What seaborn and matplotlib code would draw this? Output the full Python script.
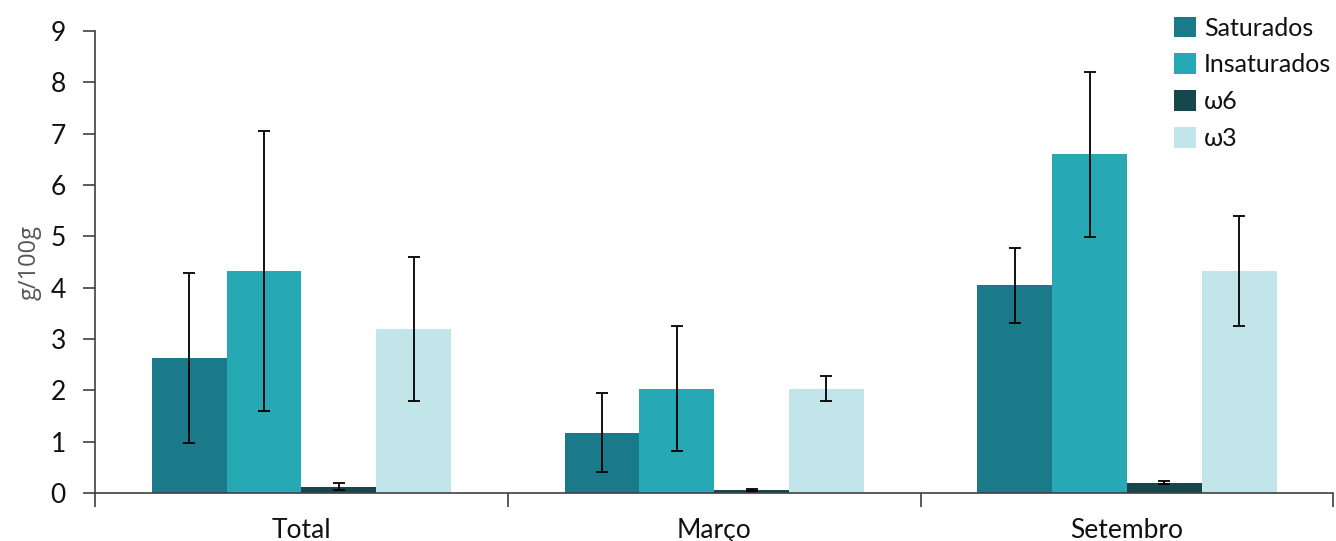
import pandas as pd
import numpy as np
import matplotlib
matplotlib.use("Agg")
import matplotlib.pyplot as plt
import seaborn as sns
from matplotlib.patches import Patch

categories = ["Total", "Março", "Setembro"]
series = ["Saturados", "Insaturados", "ω6", "ω3"]

# mean values per series, in category order
saturados = [2.63, 1.17, 4.05]
insaturados = [4.33, 2.03, 6.60]
omega6 = [0.12, 0.06, 0.20]
omega3 = [3.20, 2.03, 4.33]

# error (+/-) per series, in category order
saturados_err = [1.65, 0.77, 0.73]
insaturados_err = [2.73, 1.22, 1.61]
omega6_err = [0.07, 0.02, 0.03]
omega3_err = [1.40, 0.24, 1.07]

colors = ["#1a7a89", "#26a8b5", "#16474d", "#c2e5e9"]


def build_frame():
    rows = []
    values = [saturados, insaturados, omega6, omega3]
    errors = [saturados_err, insaturados_err, omega6_err, omega3_err]
    for s, vals, errs in zip(series, values, errors):
        for c, v, e in zip(categories, vals, errs):
            rows.append({"Periodo": c, "Tipo": s, "Valor": v, "Erro": e})
    return pd.DataFrame(rows)


def main():
    df = build_frame()

    sns.set_style("white")
    plt.rcParams['font.family'] = ['Lato', 'DejaVu Sans']
    plt.rcParams['text.color'] = '#111111'
    plt.rcParams['xtick.color'] = '#111111'
    plt.rcParams['ytick.color'] = '#111111'

    fig = plt.figure(figsize=(13.36, 5.41), dpi=100)
    ax = fig.add_axes([0.0711, 0.0887, 0.927, 0.854])

    sns.barplot(data=df, x="Periodo", y="Valor", hue="Tipo",
                order=categories, hue_order=series,
                palette=colors, width=0.725, errorbar=None,
                linewidth=0, saturation=1, legend=False, ax=ax)

    # Error bars on top of seaborn's bar positions
    for patch_group, s in zip(ax.containers, series):
        sub = df[df.Tipo == s].set_index("Periodo").loc[categories]
        xs = [p.get_x() + p.get_width() / 2 for p in patch_group]
        ax.errorbar(xs, sub["Valor"], yerr=sub["Erro"], fmt="none",
                    ecolor="black", elinewidth=1.3, capsize=4, capthick=1.3,
                    zorder=5)

    ax.set_xlim(-0.5, 2.5)
    ax.set_ylim(0, 9)
    ax.set_yticks(range(10))
    ax.set_xlabel("")
    ax.set_ylabel("g/100g", fontsize=17, color="#555555", labelpad=6,
                  family=['Open Sans', 'DejaVu Sans'])

    sns.despine(ax=ax, top=True, right=True)
    for side in ["left", "bottom"]:
        ax.spines[side].set_color("#404040")
        ax.spines[side].set_linewidth(1.2)

    ax.tick_params(axis="y", direction="out", length=9, width=1.2,
                   color="#404040", labelsize=19, pad=12, left=True)
    ax.tick_params(axis="x", which="major", length=0, labelsize=19, pad=18)
    ax.set_xticks([-0.5, 0.5, 1.5, 2.5], minor=True)
    ax.tick_params(axis="x", which="minor", direction="out", length=10,
                   width=1.2, color="#404040", bottom=True)

    handles = [Patch(facecolor=c, edgecolor="none") for c in colors]
    ax.legend(handles, series, loc="upper right", frameon=False,
              fontsize=18, handlelength=0.9, handleheight=0.9,
              handletextpad=0.3, labelspacing=0.55,
              bbox_to_anchor=(1.006, 1.053), borderaxespad=0)

    plt.savefig("out.png", dpi=100)
    plt.close()


if __name__ == '__main__':
    main()
